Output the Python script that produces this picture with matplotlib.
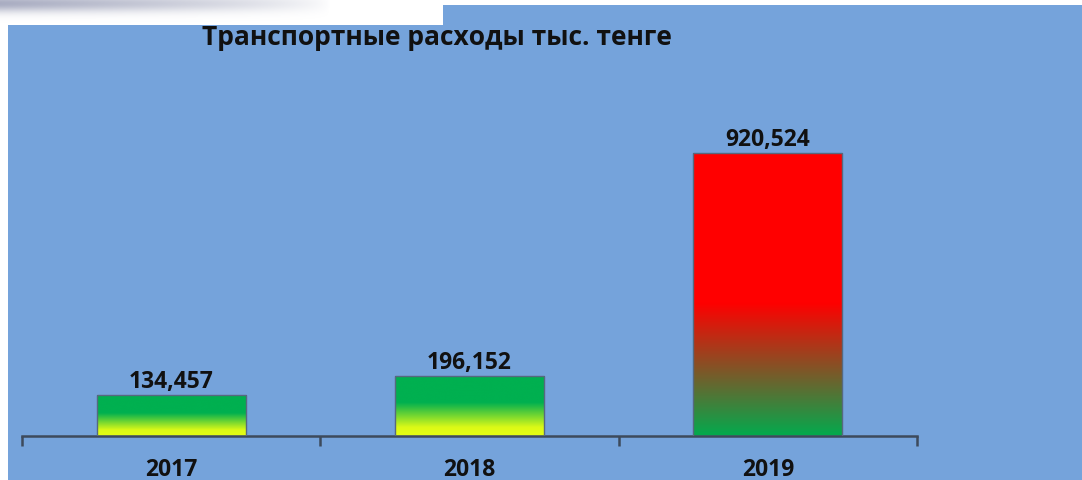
import numpy as np
import matplotlib
matplotlib.use("Agg")
import matplotlib.pyplot as plt
from matplotlib.colors import LinearSegmentedColormap
from matplotlib.patches import Polygon

# ---- data ----
years = ["2017", "2018", "2019"]
values = [134457, 196152, 920524]
value_labels = ["134,457", "196,152", "920,524"]
title = "Транспортные расходы тыс. тенге"

W, H = 1082, 481
fig = plt.figure(figsize=(W / 100, H / 100), dpi=100)
fig.patch.set_facecolor("white")

# background axes in pixel coordinates (y downward)
bg = fig.add_axes([0, 0, 1, 1], zorder=0)
bg.set_axis_off()
bg.set_xlim(0, W)
bg.set_ylim(H, 0)

# grey shadow (decoration) in the top-left corner
xx, yy = np.meshgrid(np.linspace(0, 443, 443), np.linspace(0, 26, 26))
alpha = np.clip(1 - xx / 330, 0, 1) ** 0.7 * np.exp(-((yy - 4) / 9) ** 2) * 0.75
img = np.zeros((26, 443, 4))
img[..., 0] = 0.55
img[..., 1] = 0.57
img[..., 2] = 0.68
img[..., 3] = alpha
bg.imshow(img, aspect="auto", extent=[0, 443, 26, 0], zorder=1)

# blue background
bg_color = "#75A3DB"
poly = Polygon([(8, 481), (8, 26), (443, 26), (443, 6), (1082, 6), (1082, 481)],
               closed=True, facecolor=bg_color, edgecolor="none", zorder=2)
bg.add_patch(poly)
bg.set_xlim(0, W)
bg.set_ylim(H, 0)

def fx(px):
    return px / W

def fy(py):
    return 1 - py / H

# main axes
ax_left, ax_right, ax_bottom, ax_top = 22, 917, 437, 68.5
ax = fig.add_axes([fx(ax_left), fy(ax_bottom), fx(ax_right - ax_left), (ax_bottom - ax_top) / H],
                  zorder=2)
ax.patch.set_visible(False)

x = np.arange(len(years))
bars = ax.bar(x, values, width=0.5, facecolor="none", edgecolor="#56697F", linewidth=1.0, zorder=3)

cmap_gy = LinearSegmentedColormap.from_list(
    "gy", [(0.0, "#E4FF14"), (0.14, "#DDFA16"), (0.55, "#00B050"), (1.0, "#00B050")])
cmap_rg = LinearSegmentedColormap.from_list(
    "rg", [(0.0, "#03AA4E"), (0.47, "#FF0000"), (1.0, "#FF0000")])
cmaps = [cmap_gy, cmap_gy, cmap_rg]

grad = np.linspace(0, 1, 256).reshape(-1, 1)
for rect, cm in zip(bars, cmaps):
    x0 = rect.get_x()
    w = rect.get_width()
    h = rect.get_height()
    im = ax.imshow(grad, cmap=cm, origin="lower", aspect="auto",
                   extent=[x0, x0 + w, 0, h], zorder=2, interpolation="bicubic")
    im.set_clip_path(rect)

ax.set_xlim(-0.5, len(years) - 0.5)
ax.set_ylim(0, 1200000)

for xi, v, lab in zip(x, values, value_labels):
    ax.annotate(lab, (xi, v), xytext=(0, 8), textcoords="offset pixels",
                ha="center", va="baseline", fontsize=16.5, fontweight="bold",
                family="Open Sans", color="#111111", zorder=5)

for s in ["top", "right", "left"]:
    ax.spines[s].set_visible(False)
ax.spines["bottom"].set_color("#3D4A5C")
ax.spines["bottom"].set_linewidth(1.8)
ax.set_yticks([])
ax.set_xticks(x)
ax.set_xticklabels(years, fontsize=16.5, fontweight="bold", family="Open Sans", color="#111111")
ax.set_xticks(np.arange(-0.5, len(years)), minor=True)
ax.tick_params(axis="x", which="major", length=0, pad=15)
ax.tick_params(axis="x", which="minor", length=7.2, width=1.8, color="#3D4A5C", direction="out")

fig.text(fx(437), fy(45), title, ha="center", va="baseline", fontsize=19,
         fontweight="bold", family="Open Sans", color="#111111", zorder=5)

fig.savefig("out.png", dpi=100, facecolor=fig.get_facecolor())
